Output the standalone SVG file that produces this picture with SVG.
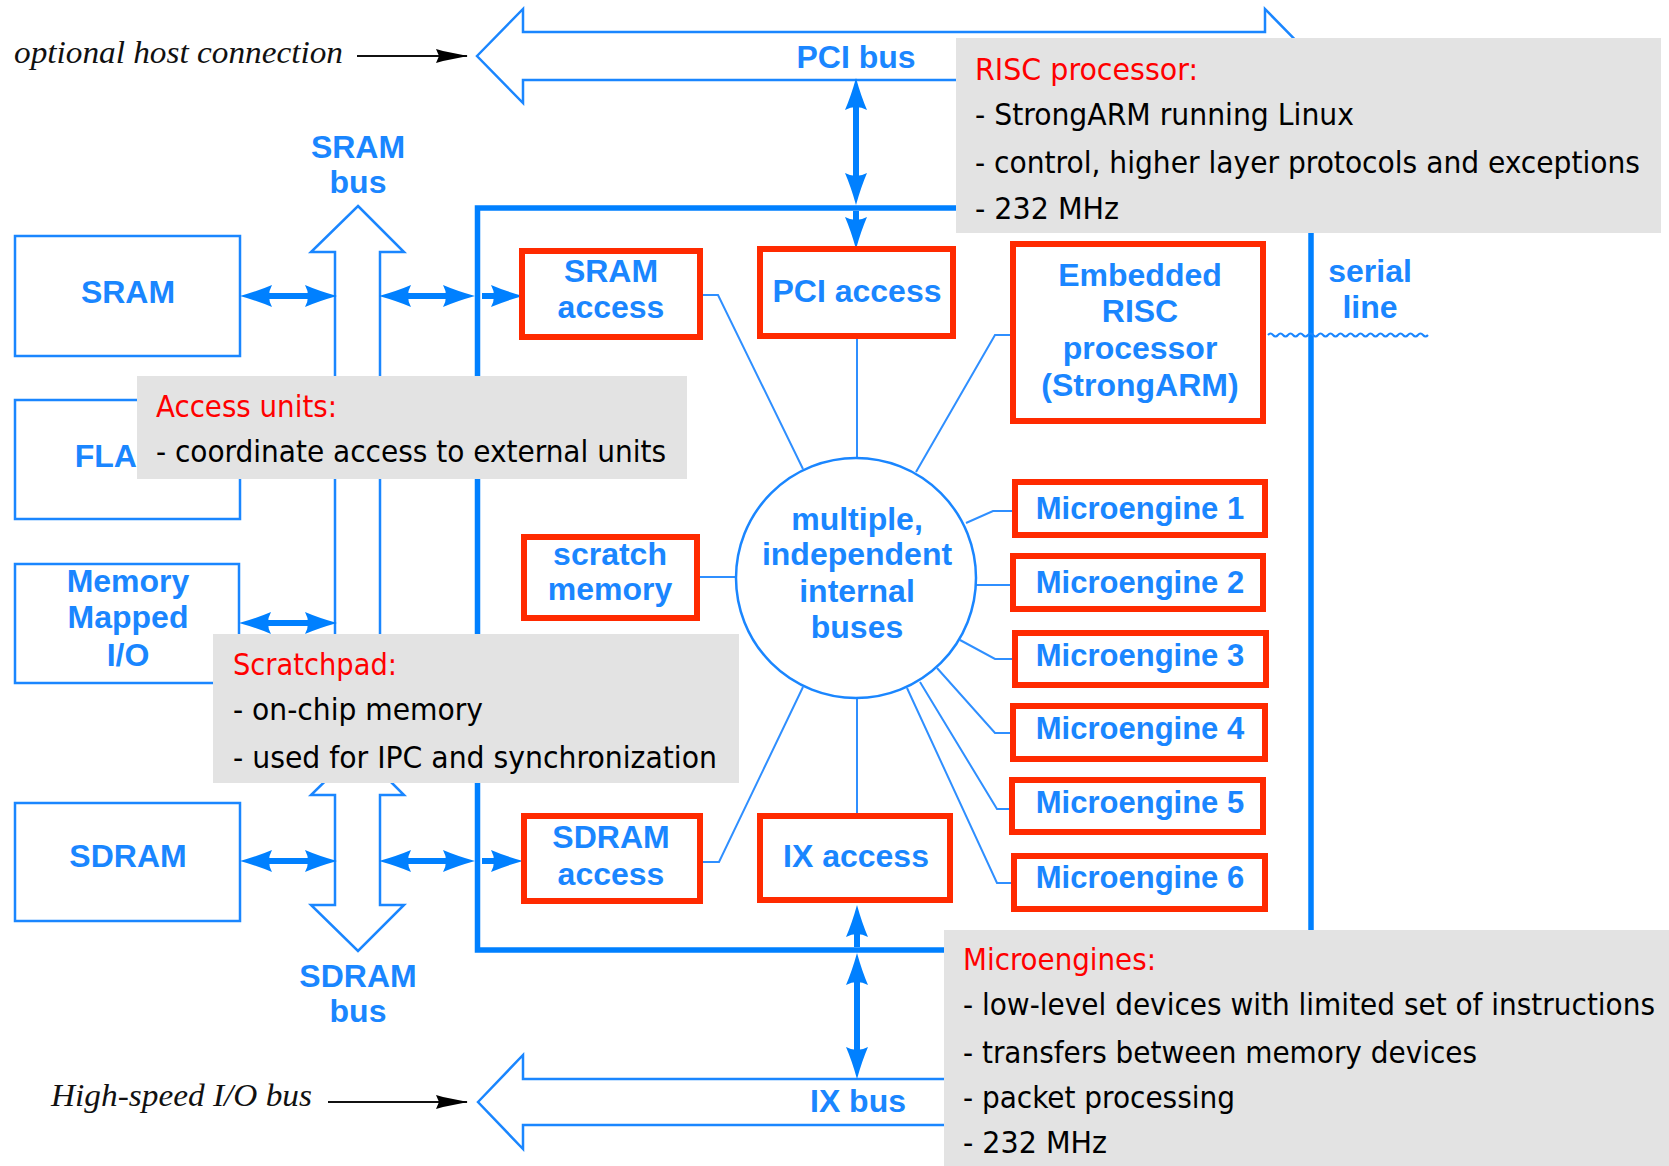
<svg xmlns="http://www.w3.org/2000/svg" width="1669" height="1166" viewBox="0 0 1669 1166">
<defs>
<style>
.bus{fill:#fff;stroke:#1a86ff;stroke-width:2.5}
.ext{fill:#fff;stroke:#1a86ff;stroke-width:2.5}
.unit{fill:#fff;stroke:#ff2a00;stroke-width:6}
.lbl{font-family:"Liberation Sans",Arial,sans-serif;font-weight:bold;font-size:32px;fill:#1a86ff;text-anchor:middle}
.me{font-size:31px}
.thin{fill:none;stroke:#2f8fff;stroke-width:2}
.thick{fill:none;stroke:#0080ff;stroke-width:6;marker-end:url(#ah)}
.both{marker-start:url(#ah)}
.ptr{fill:none;stroke:#111;stroke-width:2;marker-end:url(#bk)}
.note{fill:#e3e3e3}
.nt{font-family:"DejaVu Sans Condensed","DejaVu Sans",sans-serif;font-size:31px;fill:#000}
.nh{fill:#ff0000}
.it{font-family:"Liberation Serif","Times New Roman",serif;font-style:italic;font-size:32px;fill:#111}
</style>
<marker id="ah" viewBox="0 0 32 22" refX="22" refY="11" markerWidth="32" markerHeight="22" markerUnits="userSpaceOnUse" orient="auto-start-reverse">
<path d="M0,0 Q14,6 32,11 Q14,16 0,22 Q6,11 0,0 Z" fill="#0080ff"/>
</marker>
<marker id="bk" viewBox="0 0 32 16" refX="31" refY="8" markerWidth="32" markerHeight="16" markerUnits="userSpaceOnUse" orient="auto">
<path d="M0,1 L7,3 L32,8 L7,13 L0,15 L3,8 Z" fill="#000"/>
</marker>
</defs>

<rect width="1669" height="1166" fill="#fff"/>

<!-- block-arrow buses -->
<g id="pci-bus">
<polygon class="bus" points="477,56 523,9 523,32 1265,32 1265,9 1311,56 1265,103 1265,80 523,80 523,103"/>
<text class="lbl" x="856" y="68">PCI bus</text>
</g>
<g id="ix-bus">
<polygon class="bus" points="478,1102 523,1055 523,1079 1265,1079 1265,1055 1311,1102 1265,1149 1265,1125 523,1125 523,1149"/>
<text class="lbl" x="858" y="1112">IX bus</text>
</g>
<g id="sram-bus">
<polygon class="bus" points="358,206 404,252 380,252 380,690 404,690 358,736 311,690 335,690 335,252 311,252"/>
<text class="lbl" x="358" y="158">SRAM</text>
<text class="lbl" x="358" y="193">bus</text>
</g>
<g id="sdram-bus">
<polygon class="bus" points="358,749 404,795 380,795 380,905 404,905 358,951 311,905 335,905 335,795 311,795"/>
<text class="lbl" x="358" y="987">SDRAM</text>
<text class="lbl" x="358" y="1022">bus</text>
</g>

<!-- chip boundary -->
<g id="chip">
<rect x="477.5" y="208" width="833.5" height="742" fill="none" stroke="#0080ff" stroke-width="5.5"/>
</g>

<!-- serial line -->
<g id="serial-line">
<path fill="none" stroke="#1a86ff" stroke-width="2" d="M1268,335 q2.5,-3 5,0 t5,0 t5,0 t5,0 t5,0 t5,0 t5,0 t5,0 t5,0 t5,0 t5,0 t5,0 t5,0 t5,0 t5,0 t5,0 t5,0 t5,0 t5,0 t5,0 t5,0 t5,0 t5,0 t5,0 t5,0 t5,0 t5,0 t5,0 t5,0 t5,0 t5,0 t5,0"/>
<text class="lbl" x="1370" y="282">serial</text>
<text class="lbl" x="1370" y="318">line</text>
</g>

<!-- external devices -->
<g id="sram">
<rect class="ext" x="15" y="236" width="225" height="120"/>
<text class="lbl" x="128" y="303">SRAM</text>
</g>
<g id="flash">
<rect class="ext" x="15" y="400" width="225" height="119"/>
<text class="lbl" x="128" y="467">FLASH</text>
</g>
<g id="mmio">
<rect class="ext" x="15" y="564" width="224" height="119"/>
<text class="lbl" x="128" y="592">Memory</text>
<text class="lbl" x="128" y="628">Mapped</text>
<text class="lbl" x="128" y="666">I/O</text>
</g>
<g id="sdram">
<rect class="ext" x="15" y="803" width="225" height="118"/>
<text class="lbl" x="128" y="867">SDRAM</text>
</g>

<!-- connectors -->
<g id="connectors">
<path class="thin" d="M703,295 H718 L803,469"/>
<path class="thin" d="M857,339 V458"/>
<path class="thin" d="M1011,335 H995 L916,472"/>
<path class="thin" d="M700,577 H736"/>
<path class="thin" d="M1012,511 H993 L966,523"/>
<path class="thin" d="M976,585 H1010"/>
<path class="thin" d="M1012,659 H995 L960,640"/>
<path class="thin" d="M1010,733 H995 L937,668"/>
<path class="thin" d="M1009,809 H997 L920,682"/>
<path class="thin" d="M1011,883 H997 L907,688"/>
<path class="thin" d="M703,862 H719 L803,687"/>
<path class="thin" d="M857,698 V813"/>

<path class="thick both" d="M250,296 H327"/>
<path class="thick both" d="M389,296 H465"/>
<path class="thick" d="M482,296 H513"/>
<path class="thick both" d="M249,623 H327"/>
<path class="thick both" d="M250,861 H327"/>
<path class="thick both" d="M389,861 H465"/>
<path class="thick" d="M482,861 H513"/>
<path class="thick both" d="M856,88 V195"/>
<path class="thick" d="M856,211 V239"/>
<path class="thick" d="M857,947 V915"/>
<path class="thick both" d="M857,963 V1069"/>

<path class="ptr" d="M357,56 H467"/>
<path class="ptr" d="M328,1102 H467"/>
</g>

<!-- on-chip units -->
<g id="bus-hub">
<circle cx="856" cy="578" r="120" fill="#fff" stroke="#1a86ff" stroke-width="2.5"/>
<text class="lbl" x="857" y="530">multiple,</text>
<text class="lbl" x="857" y="565">independent</text>
<text class="lbl" x="857" y="602">internal</text>
<text class="lbl" x="857" y="638">buses</text>
</g>
<g id="sram-access">
<rect class="unit" x="522" y="251" width="178" height="86"/>
<text class="lbl" x="611" y="282">SRAM</text>
<text class="lbl" x="611" y="318">access</text>
</g>
<g id="scratch-memory">
<rect class="unit" x="524" y="537" width="173" height="81"/>
<text class="lbl" x="610" y="565">scratch</text>
<text class="lbl" x="610" y="600">memory</text>
</g>
<g id="sdram-access">
<rect class="unit" x="524" y="816" width="176" height="85"/>
<text class="lbl" x="611" y="848">SDRAM</text>
<text class="lbl" x="611" y="885">access</text>
</g>
<g id="pci-access">
<rect class="unit" x="760" y="249" width="193" height="87"/>
<text class="lbl" x="857" y="302">PCI access</text>
</g>
<g id="ix-access">
<rect class="unit" x="760" y="816" width="190" height="84"/>
<text class="lbl" x="856" y="867">IX access</text>
</g>
<g id="risc-core">
<rect class="unit" x="1013" y="244" width="250" height="177"/>
<text class="lbl" x="1140" y="286">Embedded</text>
<text class="lbl" x="1140" y="322">RISC</text>
<text class="lbl" x="1140" y="359">processor</text>
<text class="lbl" x="1140" y="396">(StrongARM)</text>
</g>
<g id="microengine-1">
<rect class="unit" x="1015" y="482" width="250" height="53"/>
<text class="lbl me" x="1140" y="519">Microengine 1</text>
</g>
<g id="microengine-2">
<rect class="unit" x="1013" y="556" width="250" height="53"/>
<text class="lbl me" x="1140" y="593">Microengine 2</text>
</g>
<g id="microengine-3">
<rect class="unit" x="1015" y="633" width="251" height="52"/>
<text class="lbl me" x="1140" y="666">Microengine 3</text>
</g>
<g id="microengine-4">
<rect class="unit" x="1013" y="706" width="252" height="53"/>
<text class="lbl me" x="1140" y="739">Microengine 4</text>
</g>
<g id="microengine-5">
<rect class="unit" x="1012" y="780" width="251" height="52"/>
<text class="lbl me" x="1140" y="813">Microengine 5</text>
</g>
<g id="microengine-6">
<rect class="unit" x="1014" y="856" width="251" height="53"/>
<text class="lbl me" x="1140" y="888">Microengine 6</text>
</g>

<!-- pointer captions -->
<g id="host-caption">
<text class="it" x="14" y="63" textLength="329" lengthAdjust="spacingAndGlyphs">optional host connection</text>
</g>
<g id="io-caption">
<text class="it" x="51" y="1106" textLength="261" lengthAdjust="spacingAndGlyphs">High-speed I/O bus</text>
</g>

<!-- callout notes -->
<g id="note-risc">
<rect class="note" x="956" y="38" width="705" height="195"/>
<text class="nt nh" x="975" y="80" textLength="223" lengthAdjust="spacingAndGlyphs">RISC processor:</text>
<text class="nt" x="975" y="125" textLength="379" lengthAdjust="spacingAndGlyphs">- StrongARM running Linux</text>
<text class="nt" x="975" y="173" textLength="665" lengthAdjust="spacingAndGlyphs">- control, higher layer protocols and exceptions</text>
<text class="nt" x="975" y="219" textLength="144" lengthAdjust="spacingAndGlyphs">- 232 MHz</text>
</g>
<g id="note-access">
<rect class="note" x="137" y="376" width="550" height="103"/>
<text class="nt nh" x="156" y="417" textLength="181" lengthAdjust="spacingAndGlyphs">Access units:</text>
<text class="nt" x="156" y="462" textLength="510" lengthAdjust="spacingAndGlyphs">- coordinate access to external units</text>
</g>
<g id="note-scratchpad">
<rect class="note" x="213" y="634" width="526" height="149"/>
<text class="nt nh" x="233" y="675" textLength="164" lengthAdjust="spacingAndGlyphs">Scratchpad:</text>
<text class="nt" x="233" y="720" textLength="250" lengthAdjust="spacingAndGlyphs">- on-chip memory</text>
<text class="nt" x="233" y="768" textLength="484" lengthAdjust="spacingAndGlyphs">- used for IPC and synchronization</text>
</g>
<g id="note-microengines">
<rect class="note" x="944" y="930" width="725" height="236"/>
<text class="nt nh" x="963" y="970" textLength="193" lengthAdjust="spacingAndGlyphs">Microengines:</text>
<text class="nt" x="963" y="1015" textLength="692" lengthAdjust="spacingAndGlyphs">- low-level devices with limited set of instructions</text>
<text class="nt" x="963" y="1063" textLength="514" lengthAdjust="spacingAndGlyphs">- transfers between memory devices</text>
<text class="nt" x="963" y="1108" textLength="272" lengthAdjust="spacingAndGlyphs">- packet processing</text>
<text class="nt" x="963" y="1153" textLength="144" lengthAdjust="spacingAndGlyphs">- 232 MHz</text>
</g>
</svg>
